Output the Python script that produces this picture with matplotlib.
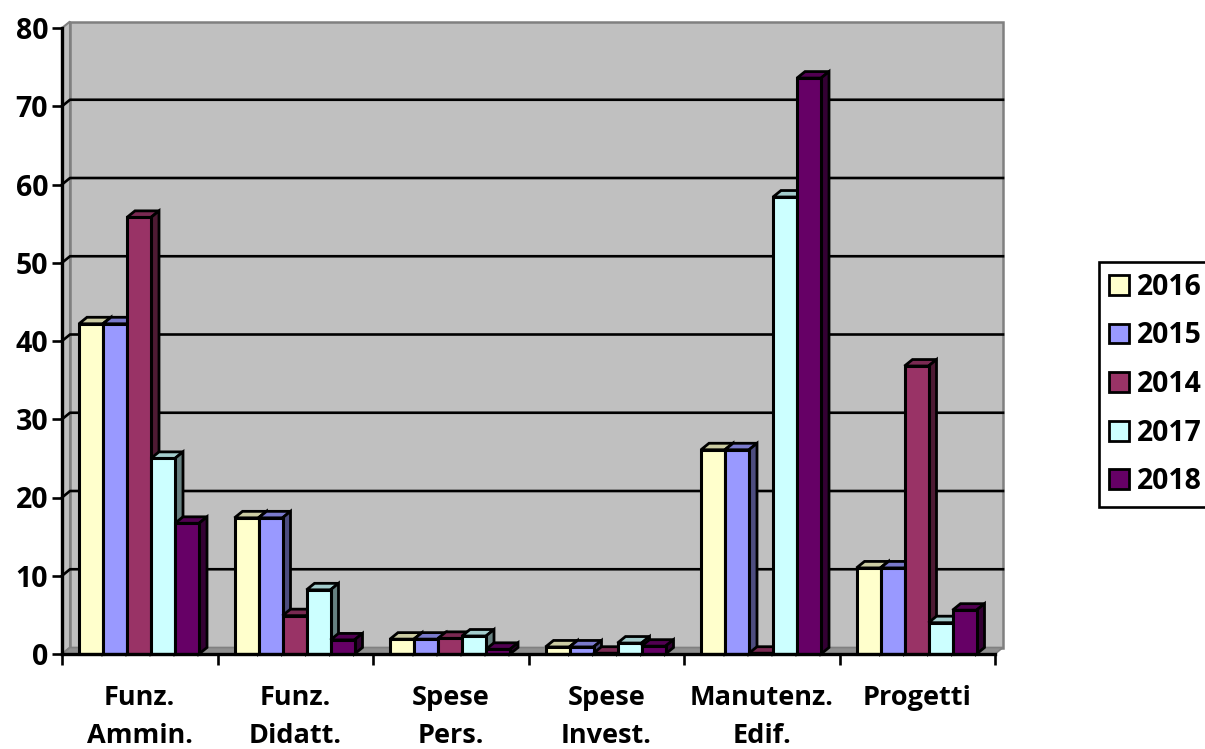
import numpy as np
import matplotlib
matplotlib.use('Agg')
import matplotlib.pyplot as plt

plt.rcParams['font.family'] = ['Open Sans', 'DejaVu Sans']
plt.rcParams['font.weight'] = 'bold'

categories = ['Funz.\nAmmin.', 'Funz.\nDidatt.', 'Spese\nPers.', 'Spese\nInvest.', 'Manutenz.\nEdif.', 'Progetti']
years = ['2016', '2015', '2014', '2017', '2018']

v2016 = [42.2, 17.4, 1.9, 0.9, 26.1, 11.0]
v2015 = [42.2, 17.4, 1.9, 0.9, 26.1, 11.0]
v2014 = [55.8, 4.9, 2.0, 0.1, 0.1, 36.8]
v2017 = [25.0, 8.2, 2.3, 1.4, 58.4, 4.0]
v2018 = [16.7, 1.8, 0.6, 1.0, 73.6, 5.6]
series = [v2016, v2015, v2014, v2017, v2018]

front = ['#FFFFCC', '#9999FF', '#993366', '#CCFFFF', '#660066']
top = ['#CCCCA3', '#7A7ACC', '#7A2952', '#A3CCCC', '#520052']
side = ['#808066', '#4D4D80', '#4D1A33', '#668080', '#330033']

W, H = 1205, 749
fig = plt.figure(figsize=(W / 100, H / 100), dpi=100)
# axes placed in pixels: front plane of the fake 3d box
left, right, ytop, ybot = 62, 995, 28, 654
ax = fig.add_axes([left / W, 1 - ybot / H, (right - left) / W, (ybot - ytop) / H])
ax.set_xlim(0, 6)
ax.set_ylim(0, 80)
ax.patch.set_visible(False)

# depth of the box, in data units
dx = 8 / ((right - left) / 6)
dy = 6.5 / ((ybot - ytop) / 80)

# walls and floor
ax.fill([dx, 6 + dx, 6 + dx, dx], [dy, dy, 80 + dy, 80 + dy], fc='#C0C0C0', ec='#808080', lw=1.8, clip_on=False, zorder=0)
ax.fill([0, dx, dx, 0], [0, dy, 80 + dy, 80], fc='#C0C0C0', ec='#808080', lw=1.5, clip_on=False, zorder=0)
ax.fill([0, 6, 6 + dx, dx], [0, 0, dy, dy], fc='#909090', ec='#808080', lw=1.2, clip_on=False, zorder=0)

# gridlines run along the back wall
for v in range(10, 80, 10):
    ax.plot([0, dx, 6 + dx], [v, v + dy, v + dy], color='black', lw=1.9, clip_on=False, zorder=1)

n = len(years)
bw = 24 / ((right - left) / 6)
start = 17 / ((right - left) / 6)
xs = np.arange(len(categories))

for s in range(n):
    x0 = xs + start + s * bw
    ax.bar(x0, series[s], bw, align='edge', color=front[s], edgecolor='black', lw=2.2, label=years[s], zorder=4 + 2 * s, clip_on=False)
    for x, v in zip(x0, series[s]):
        ax.fill([x, x + bw, x + bw + dx, x + dx], [v, v, v + dy, v + dy], fc=top[s], ec='black', lw=2, zorder=3 + 2 * s, clip_on=False)
        ax.fill([x + bw, x + bw + dx, x + bw + dx, x + bw], [0, dy, v + dy, v], fc=side[s], ec='black', lw=2, zorder=3 + 2 * s, clip_on=False)

for name in ['top', 'right']:
    ax.spines[name].set_visible(False)
for name in ['left', 'bottom']:
    ax.spines[name].set_linewidth(2.4)
    ax.spines[name].set_zorder(20)

ax.set_yticks(np.arange(0, 81, 10))
ax.tick_params(axis='y', length=7.5, width=1.9, labelsize=20.5, pad=2.5)
ax.set_xticks(np.arange(0, 7))
ax.set_xticklabels([])
ax.tick_params(axis='x', which='major', length=8, width=1.9)
ax.set_xticks(xs + 0.5, minor=True)
ax.set_xticklabels(categories, minor=True, fontsize=19.5, linespacing=1.6, va='top')
ax.tick_params(axis='x', which='minor', length=0, pad=22)

leg = fig.legend(loc='center left', bbox_to_anchor=(1098.5 / W, 1 - 384.5 / H), fontsize=20.4, frameon=True,
                 fancybox=False, edgecolor='black', framealpha=1, borderaxespad=0,
                 labelspacing=0.69, handlelength=0.7, handleheight=0.7, handletextpad=0.3, borderpad=0.37)
leg.get_frame().set_linewidth(1.9)
for h in leg.get_patches():
    h.set_linewidth(2)

fig.savefig('out.png', dpi=100)
